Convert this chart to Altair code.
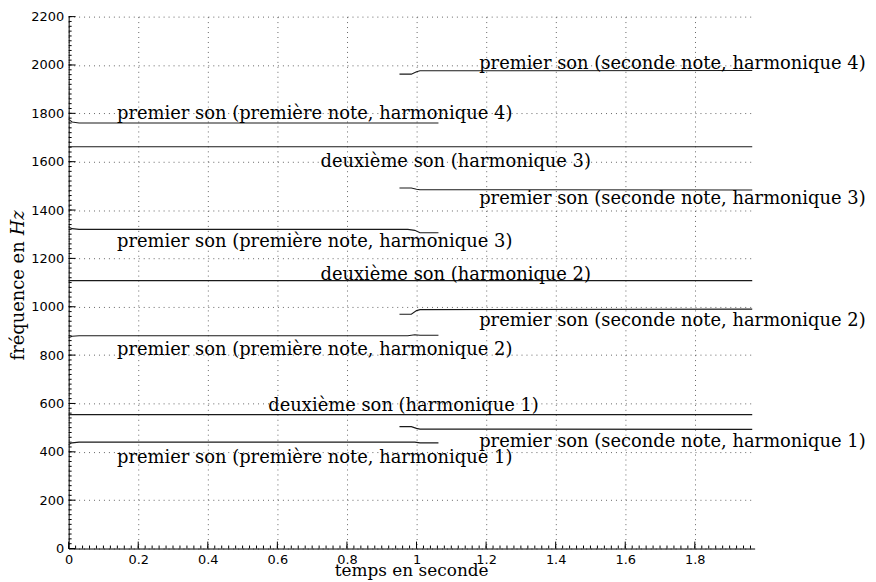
import altair as alt
import pandas as pd

# ---------------- data ----------------
# premier son, première note (harmonics 1..4)
t_prem = [0.0, 0.01, 0.03, 0.975, 0.995, 1.01, 1.063]
f_prem_h1 = [430, 437, 440, 440, 440, 437, 437]
f_prem_h2 = [872, 878, 880, 880, 884, 882, 882]
f_prem_h3 = [1330, 1323, 1320, 1320, 1316, 1306, 1306]
f_prem_h4 = [1775, 1764, 1760, 1760, 1760, 1760, 1760]

# premier son, seconde note (harmonics 1..4)
t_sec = [0.951, 0.985, 1.0, 1.01, 1.965]
f_sec_h1 = [504, 504, 497, 494, 493]
f_sec_h2 = [969, 969, 984, 988, 990]
f_sec_h3 = [1491, 1491, 1486, 1484, 1483]
f_sec_h4 = [1962, 1962, 1972, 1976, 1977]

# deuxième son (harmonics 1..3)
t_deux = [0.0, 1.965]
f_deux_h1 = [554, 554]
f_deux_h2 = [1108, 1108]
f_deux_h3 = [1662, 1662]

# labels: text, x start (s), y centre (Hz)
lab_text = [
    "premier son (seconde note, harmonique 4)",
    "premier son (première note, harmonique 4)",
    "deuxième son (harmonique 3)",
    "premier son (seconde note, harmonique 3)",
    "premier son (première note, harmonique 3)",
    "deuxième son (harmonique 2)",
    "premier son (seconde note, harmonique 2)",
    "premier son (première note, harmonique 2)",
    "deuxième son (harmonique 1)",
    "premier son (seconde note, harmonique 1)",
    "premier son (première note, harmonique 1)",
]
lab_x = [1.18, 0.139, 0.724, 1.18, 0.139, 0.724, 1.18, 0.139, 0.574, 1.18, 0.139]
lab_y = [2003, 1797, 1600, 1445, 1269, 1130, 939, 820, 588, 441, 376]

x_ticks = [0, 0.2, 0.4, 0.6, 0.8, 1.0, 1.2, 1.4, 1.6, 1.8]
y_ticks = [0, 200, 400, 600, 800, 1000, 1200, 1400, 1600, 1800, 2000, 2200]
x_minor = [round(i * 0.02, 2) for i in range(0, 99)]
y_minor = [i * 20 for i in range(0, 111)]

X_MAX = 1.972
W, H = 690, 535
SERIF = "DejaVu Serif"
FS = 18

# ---------------- build tables ----------------
rows = []
for name, ts, fs in [
    ("p1", t_prem, f_prem_h1), ("p2", t_prem, f_prem_h2),
    ("p3", t_prem, f_prem_h3), ("p4", t_prem, f_prem_h4),
    ("s1", t_sec, f_sec_h1), ("s2", t_sec, f_sec_h2),
    ("s3", t_sec, f_sec_h3), ("s4", t_sec, f_sec_h4),
    ("d1", t_deux, f_deux_h1), ("d2", t_deux, f_deux_h2),
    ("d3", t_deux, f_deux_h3),
]:
    for t, f in zip(ts, fs):
        rows.append({"curve": name, "t": t, "f": f})
lines_df = pd.DataFrame(rows)
labels_df = pd.DataFrame({"text": lab_text, "x": lab_x, "y": lab_y})

xs = alt.Scale(domain=[0, X_MAX], nice=False, zero=False)
ys = alt.Scale(domain=[0, 2200], nice=False)

x_axis = alt.Axis(values=x_ticks, format="~g", title=None,
                  grid=True, gridDash=[1, 4], gridColor="#666", gridWidth=1,
                  ticks=False, domainColor="#000", labelColor="#000",
                  labelFont="DejaVu Sans", labelFontSize=13, labelPadding=5,
                  labelFlush=False)
y_axis = alt.Axis(values=y_ticks, format="d", title=None,
                  grid=True, gridDash=[1, 4], gridColor="#666", gridWidth=1,
                  ticks=False, domainColor="#000", labelColor="#000",
                  labelFont="DejaVu Sans", labelFontSize=13, labelPadding=5,
                  labelFlush=False)

lines = alt.Chart(lines_df).mark_line(color="#1a1a1a", strokeWidth=1.1).encode(
    x=alt.X("t:Q", scale=xs, axis=x_axis),
    y=alt.Y("f:Q", scale=ys, axis=y_axis),
    detail="curve:N",
)

labels = alt.Chart(labels_df).mark_text(
    align="left", baseline="middle", font=SERIF, fontSize=FS, color="#000"
).encode(x=alt.X("x:Q", scale=xs), y=alt.Y("y:Q", scale=ys), text="text:N")

xmaj = alt.Chart(pd.DataFrame({"v": x_ticks})).mark_rule(color="#000").encode(
    x=alt.X("v:Q", scale=xs), y=alt.value(H), y2=alt.value(H - 7))
xmin = alt.Chart(pd.DataFrame({"v": x_minor})).mark_rule(color="#000").encode(
    x=alt.X("v:Q", scale=xs), y=alt.value(H), y2=alt.value(H - 3))
ymaj = alt.Chart(pd.DataFrame({"v": y_ticks})).mark_rule(color="#000").encode(
    y=alt.Y("v:Q", scale=ys), x=alt.value(0), x2=alt.value(7))
ymin = alt.Chart(pd.DataFrame({"v": y_minor})).mark_rule(color="#000").encode(
    y=alt.Y("v:Q", scale=ys), x=alt.value(0), x2=alt.value(3))

xtitle = alt.Chart(pd.DataFrame({"s": ["temps en seconde"]})).mark_text(
    align="center", baseline="bottom", font=SERIF, fontSize=17, color="#000"
).encode(text="s:N", x=alt.value(W / 2), y=alt.value(H + 32))
ytitle1 = alt.Chart(pd.DataFrame({"s": ["fréquence en"]})).mark_text(
    angle=270, align="right", baseline="middle", font=SERIF, fontSize=FS, color="#000"
).encode(text="s:N", x=alt.value(-50), y=alt.value(226))
ytitle2 = alt.Chart(pd.DataFrame({"s": ["Hz"]})).mark_text(
    angle=270, align="left", baseline="middle", font=SERIF, fontSize=FS,
    fontStyle="italic", color="#000"
).encode(text="s:N", x=alt.value(-50), y=alt.value(220))

chart = alt.layer(lines, xmaj, xmin, ymaj, ymin, labels, xtitle, ytitle1, ytitle2).properties(
    width=W, height=H,
    autosize=alt.AutoSizeParams(type="none"),
    padding={"left": 61, "top": 7, "right": 114, "bottom": 32},
).configure_view(stroke=None)

chart.save("out.html", embed_options={"renderer": "svg", "actions": False})
